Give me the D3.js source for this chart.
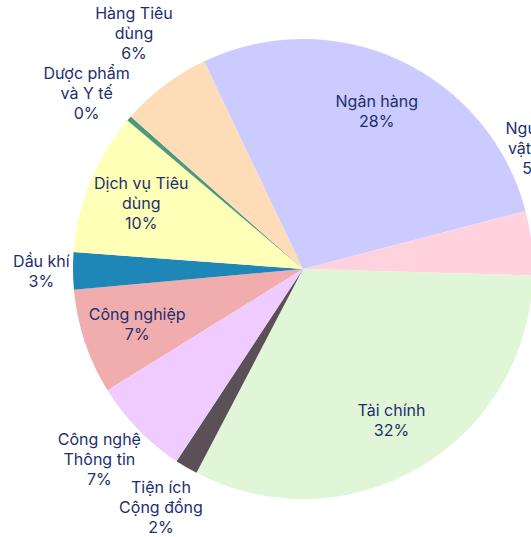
<!DOCTYPE html>
<html lang="vi">
<head>
    <meta charset="utf-8"/>
    <title>Cơ cấu ngành</title>
    <script src="https://d3js.org/d3.v7.min.js"></script>
    <style>
        body { margin: 0; background: #fff; }
        svg { display: block; }
        .nhan { font-family: Inter, "Noto Sans", sans-serif; font-size: 16px; fill: #1c2f6e; }
    </style>
</head>
<body>
<div id="viz"></div>

<script type="text/javascript">

    // dữ liệu (tỷ trọng %)
    const nganh = ["Công nghiệp", "Dầu khí", "Dịch vụ Tiêu\ndùng", "Dược phẩm\nvà Y tế", "Hàng Tiêu\ndùng",
        "Ngân hàng", "Nguyên\nvật liệu", "Tài chính", "Tiện ích\nCộng đồng", "Công nghệ\nThông tin"];
    const tyTrong = [7.4, 2.6, 10.0, 0.35, 6.4, 28.0, 4.5, 32.2, 1.6, 6.9];
    const mauNganh = ["#f1adad", "#1f87b8", "#ffffb8", "#4b9a7b", "#ffdcb8",
        "#cbcbff", "#ffd2de", "#e0f6d6", "#5a5056", "#efcbff"];

    // kích thước
    const width = 531, height = 537;
    const cx = 303, cy = 269, R = 230;
    const lineH = 20, pad = 4;
    const goc0 = 238.2 * Math.PI / 180;

    const svg = d3.select("#viz").append("svg")
        .attr("width", width).attr("height", height);

    const total = d3.sum(tyTrong);
    const data = nganh.map((n, i) => ({ten: n, v: tyTrong[i], mau: mauNganh[i]}));

    const pie = d3.pie().sort(null).value(d => d.v)
        .startAngle(goc0).endAngle(goc0 + 2 * Math.PI);
    const arcs = pie(data);

    const arc = d3.arc().innerRadius(0).outerRadius(R);

    const g = svg.append("g").attr("transform", "translate(" + cx + "," + cy + ")");

    g.selectAll("path.lat")
        .data(arcs)
        .enter()
        .append("path")
        .attr("class", "lat")
        .attr("d", arc)
        .attr("fill", d => d.data.mau);

    // nhãn
    const labelArc = d3.arc().innerRadius(R * 0.76).outerRadius(R * 0.76);

    const labels = arcs.map(d => {
        const lines = d.data.ten.split("\n");
        lines.push(Math.round(d.data.v / total * 100) + "%");
        return {arc: d, lines: lines, inside: d.data.v / total >= 0.07};
    });

    const textG = g.selectAll("text.nhan")
        .data(labels)
        .enter()
        .append("text")
        .attr("class", "nhan")
        .attr("text-anchor", "middle")
        .attr("dominant-baseline", "central");

    textG.selectAll("tspan")
        .data(d => d.lines)
        .enter()
        .append("tspan")
        .text(t => t);

    // đo kích thước từng nhãn
    textG.each(function (d) {
        d.lineW = [];
        d3.select(this).selectAll("tspan").each(function () {
            d.lineW.push(this.getComputedTextLength());
        });
        d.hw = d3.max(d.lineW) / 2;
        d.hh = d.lines.length * lineH / 2;
    });

    // khoảng cách để góc hộp nhãn chạm vòng R + pad
    function clearDist(theta, hw, hh) {
        const ux = Math.sin(theta), uy = -Math.cos(theta);
        const sx = Math.sign(ux) * hw, sy = Math.sign(uy) * hh;
        const us = ux * sx + uy * sy;
        return us + Math.sqrt(us * us - (sx * sx + sy * sy) + (R + pad) * (R + pad));
    }

    // như trên nhưng xét từng dòng chữ riêng
    function clearDistLines(theta, d) {
        const ux = Math.sin(theta), uy = -Math.cos(theta);
        const n = d.lines.length;
        for (let dist = R * 0.8; dist < R * 2; dist += 0.5) {
            const px = dist * ux, py = dist * uy;
            const ok = d.lineW.every((w, i) => {
                const ly = py + (i - (n - 1) / 2) * lineH;
                const qx = Math.max(px - w / 2, Math.min(0, px + w / 2));
                const qy = Math.max(ly - lineH * 0.35, Math.min(0, ly + lineH * 0.35));
                return Math.hypot(qx, qy) >= R + pad;
            });
            if (ok) return dist;
        }
        return R * 2;
    }

    labels.forEach(d => {
        if (d.inside) {
            const c = labelArc.centroid(d.arc);
            d.x = c[0];
            d.y = c[1];
        } else {
            let theta = (d.arc.startAngle + d.arc.endAngle) / 2;
            let dist = clearDist(theta, d.hw, d.hh);
            d.x = dist * Math.sin(theta);
            d.y = -dist * Math.cos(theta);
            // trượt lên sát mép phải nếu nhãn văng ra ngoài
            while (cx + d.x > width + pad && theta > 0) {
                theta -= Math.PI / 720;
                dist = clearDistLines(theta, d);
                d.x = dist * Math.sin(theta);
                d.y = -dist * Math.cos(theta);
            }
        }
    });

    // đẩy các nhãn ngoài chồng nhau
    const outs = labels.filter(d => !d.inside).sort((a, b) => a.y - b.y);
    for (let i = 1; i < outs.length; i++) {
        const a = outs[i - 1], b = outs[i];
        const ox = Math.min(a.x + a.hw, b.x + b.hw) - Math.max(a.x - a.hw, b.x - b.hw);
        const oy = (a.y + a.hh) - (b.y - b.hh);
        if (ox > 0 && oy > 0) {
            a.y -= oy / 2;
            b.y += oy / 2;
        }
    }
    outs.forEach(d => {
        d.y = Math.max(d.y, d.hh - cy);
        d.y = Math.min(d.y, height - cy - d.hh);
    });

    textG.attr("transform", d => "translate(" + d.x + "," + d.y + ")");
    textG.selectAll("tspan")
        .attr("x", 0)
        .attr("y", function (t, i) {
            const n = d3.select(this.parentNode).datum().lines.length;
            return (i - (n - 1) / 2) * lineH;
        });

</script>
</body>
</html>
